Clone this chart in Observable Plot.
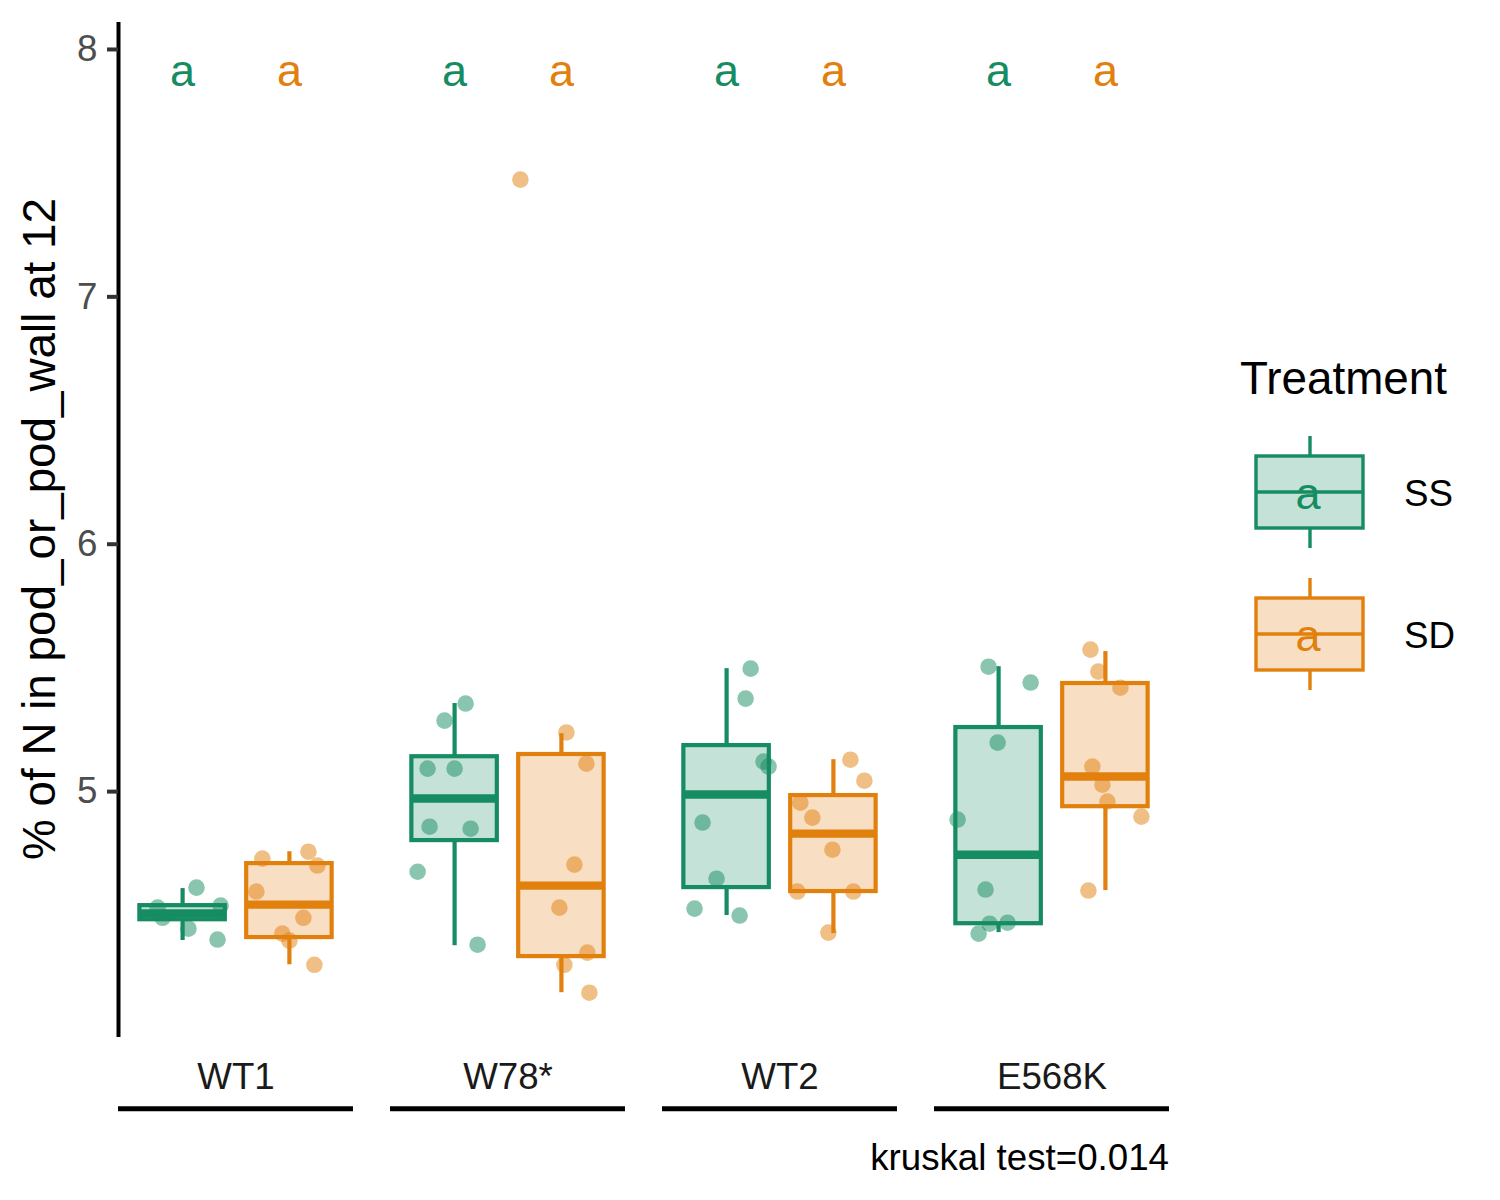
<!DOCTYPE html>
<html>
<head>
<meta charset="utf-8">
<script src="https://cdn.jsdelivr.net/npm/d3@7"></script>
<script src="https://cdn.jsdelivr.net/npm/@observablehq/plot@0.6"></script>
<style>
  html, body { margin: 0; padding: 0; background: white; }
  #chart { width: 1500px; height: 1200px; }
</style>
</head>
<body>
<div id="chart"></div>
<script>
// ---------- data ----------
const genotypes = ["WT1", "W78*", "WT2", "E568K"];
const treatments = ["SS", "SD"];
const colors = ["#168C62", "#E2800E"];
const yTicks = [5, 6, 7, 8];
const yTitle = "% of N in pod_or_pod_wall at 12";
const caption = "kruskal test=0.014";
const legendTitle = "Treatment";
const groupLetters = ["a", "a", "a", "a", "a", "a", "a", "a"];

// box statistics, one per genotype x treatment
const boxGenotype  = ["WT1", "WT1", "W78*", "W78*", "WT2", "WT2", "E568K", "E568K"];
const boxTreatment = ["SS", "SD", "SS", "SD", "SS", "SD", "SS", "SD"];
const boxQ1  = [4.482, 4.410, 4.802, 4.333, 4.612, 4.596, 4.466, 4.939];
const boxMed = [4.507, 4.543, 4.972, 4.620, 4.988, 4.830, 4.745, 5.061];
const boxQ3  = [4.539, 4.709, 5.141, 5.150, 5.186, 4.984, 5.259, 5.437];
const boxLo  = [4.398, 4.300, 4.377, 4.187, 4.499, 4.426, 4.430, 4.600];
const boxHi  = [4.608, 4.757, 5.356, 5.234, 5.497, 5.129, 5.505, 5.566];

const obsWT1_SS   = [4.531, 4.490, 4.612, 4.446, 4.539, 4.402];
const jitWT1_SS   = [-0.234, -0.187, 0.13, 0.055, 0.356, 0.327];
const obsWT1_SD   = [4.729, 4.757, 4.701, 4.596, 4.490, 4.426, 4.398, 4.300];
const jitWT1_SD   = [-0.253, 0.178, 0.262, -0.309, 0.131, -0.066, 0.0, 0.234];
const obsW78_SS   = [5.356, 5.287, 5.093, 5.093, 4.858, 4.850, 4.676, 4.381];
const jitW78_SS   = [0.103, -0.094, -0.253, 0.0, -0.234, 0.15, -0.346, 0.215];
const obsW78_SD   = [7.474, 5.239, 5.113, 4.705, 4.531, 4.349, 4.300, 4.187];
const jitW78_SD   = [-0.384, 0.047, 0.234, 0.122, -0.019, 0.243, 0.028, 0.262];
const obsWT2_SS   = [5.497, 5.376, 5.121, 5.101, 4.875, 4.648, 4.527, 4.499];
const jitWT2_SS   = [0.225, 0.178, 0.346, 0.393, -0.225, -0.094, -0.3, 0.122];
const obsWT2_SD   = [5.129, 5.044, 4.955, 4.895, 4.765, 4.596, 4.596, 4.430];
const jitWT2_SD   = [0.159, 0.29, -0.309, -0.197, -0.009, -0.337, 0.187, -0.047];
const obsE568K_SS = [5.505, 5.441, 5.198, 4.887, 4.604, 4.466, 4.470, 4.426];
const jitE568K_SS = [-0.094, 0.3, -0.009, -0.384, -0.122, -0.084, 0.084, -0.187];
const obsE568K_SD = [5.574, 5.485, 5.420, 5.101, 5.028, 4.960, 4.899, 4.600];
const jitE568K_SD = [-0.14, -0.066, 0.14, -0.122, -0.028, 0.019, 0.337, -0.159];

// ---------- tables built from the arrays ----------
const tIndex = t => treatments.indexOf(t) + 1;
const boxes = boxGenotype.map((g, k) => ({
  g, t: boxTreatment[k], i: tIndex(boxTreatment[k]),
  q1: boxQ1[k], med: boxMed[k], q3: boxQ3[k], lo: boxLo[k], hi: boxHi[k], lab: groupLetters[k]
}));
const groups = [
  ["WT1", "SS", obsWT1_SS, jitWT1_SS], ["WT1", "SD", obsWT1_SD, jitWT1_SD],
  ["W78*", "SS", obsW78_SS, jitW78_SS], ["W78*", "SD", obsW78_SD, jitW78_SD],
  ["WT2", "SS", obsWT2_SS, jitWT2_SS], ["WT2", "SD", obsWT2_SD, jitWT2_SD],
  ["E568K", "SS", obsE568K_SS, jitE568K_SS], ["E568K", "SD", obsE568K_SD, jitE568K_SD]
];
const points = groups.flatMap(([g, t, vals, jit]) =>
  vals.map((v, k) => ({g, t, i: tIndex(t), v, jit: jit[k]})));

const FONT = "'Liberation Sans', Arial, Helvetica, sans-serif";
const xDomain = [0.4, 2.6];
const yDomain = [4.006, 8.109];
const halfBox = 0.4;
const letterY = 7.912;
const stripY = 3.718;
const LW = 4.2;

const plot = Plot.plot({
  width: 1500, height: 1200,
  marginLeft: 118, marginRight: 331, marginTop: 22, marginBottom: 163,
  style: {fontFamily: FONT, fontSize: "36.7px", background: "white", color: "black", overflow: "visible"},
  x: {domain: xDomain, axis: null},
  y: {domain: yDomain},
  fx: {domain: genotypes, paddingInner: 37 / 272, paddingOuter: 0, round: false, label: null},
  color: {domain: treatments, range: colors},
  marks: [
    // y axis line only in the first panel
    Plot.ruleX([genotypes[0]], {fx: d => d, x: () => xDomain[0], y1: () => yDomain[0], y2: () => yDomain[1], stroke: "black", strokeWidth: 4}),
    Plot.axisY({ticks: yTicks, tickSize: 11, tickPadding: 10, fontSize: 36.7, stroke: "#333", fill: "#4d4d4d", strokeWidth: 4, label: null, tickFormat: d => String(d)}),
    Plot.axisFx({anchor: "bottom", tickSize: 0, tickPadding: 25, fontSize: 36.7, fill: "#1a1a1a", label: null}),
    // strip underlines
    Plot.ruleY(genotypes, {fx: d => d, y: () => stripY, stroke: "black", strokeWidth: 4.8}),
    // whiskers
    Plot.ruleX(boxes, {fx: "g", x: "i", y1: "q3", y2: "hi", stroke: "t", strokeWidth: LW}),
    Plot.ruleX(boxes, {fx: "g", x: "i", y1: "lo", y2: "q1", stroke: "t", strokeWidth: LW}),
    // boxes
    Plot.rect(boxes, {fx: "g", x1: d => d.i - halfBox, x2: d => d.i + halfBox, y1: "q1", y2: "q3",
      fill: "t", fillOpacity: 0.25, stroke: "t", strokeWidth: LW}),
    // medians
    Plot.ruleY(boxes, {fx: "g", y: "med", x1: d => d.i - halfBox, x2: d => d.i + halfBox, stroke: "t", strokeWidth: 2 * LW}),
    // jittered points
    Plot.dot(points, {fx: "g", x: d => d.i + d.jit, y: "v", r: 8.3, fill: "t", fillOpacity: 0.5, stroke: null}),
    // letters
    Plot.text(boxes, {fx: "g", x: "i", y: () => letterY, text: "lab", fill: "t", fontSize: 45})
  ]
});

document.getElementById("chart").appendChild(plot);
const svg = d3.select(plot);

// y axis title
svg.append("text")
  .attr("transform", "translate(55,529) rotate(-90)")
  .attr("text-anchor", "middle")
  .attr("font-family", FONT).attr("font-size", 45.8).attr("fill", "black")
  .text(yTitle);

// caption
svg.append("text")
  .attr("x", 1169).attr("y", 1170)
  .attr("text-anchor", "end")
  .attr("font-family", FONT).attr("font-size", 36.7).attr("fill", "black")
  .text(caption);

// legend
const lg = svg.append("g").attr("font-family", FONT).attr("text-anchor", "start");
lg.append("text").attr("x", 1240).attr("y", 394).attr("font-size", 45.8).attr("fill", "black").text(legendTitle);
const keyCenters = [492, 634];
treatments.forEach((t, k) => {
  const c = colors[k], cy = keyCenters[k];
  const g = lg.append("g");
  g.append("line").attr("x1", 1310).attr("x2", 1310).attr("y1", cy - 56).attr("y2", cy - 36).attr("stroke", c).attr("stroke-width", 3.4);
  g.append("line").attr("x1", 1310).attr("x2", 1310).attr("y1", cy + 36).attr("y2", cy + 56).attr("stroke", c).attr("stroke-width", 3.4);
  g.append("rect").attr("x", 1256).attr("y", cy - 36).attr("width", 107).attr("height", 72)
    .attr("fill", c).attr("fill-opacity", 0.25).attr("stroke", c).attr("stroke-width", 3.4);
  g.append("line").attr("x1", 1256).attr("x2", 1363).attr("y1", cy).attr("y2", cy).attr("stroke", c).attr("stroke-width", 3.4);
  g.append("text").attr("x", 1308).attr("y", cy + 17).attr("text-anchor", "middle")
    .attr("font-size", 45).attr("fill", c).text(groupLetters[k]);
  g.append("text").attr("x", 1404).attr("y", cy + 14).attr("font-size", 36.7).attr("fill", "black").text(t);
});
</script>
</body>
</html>
